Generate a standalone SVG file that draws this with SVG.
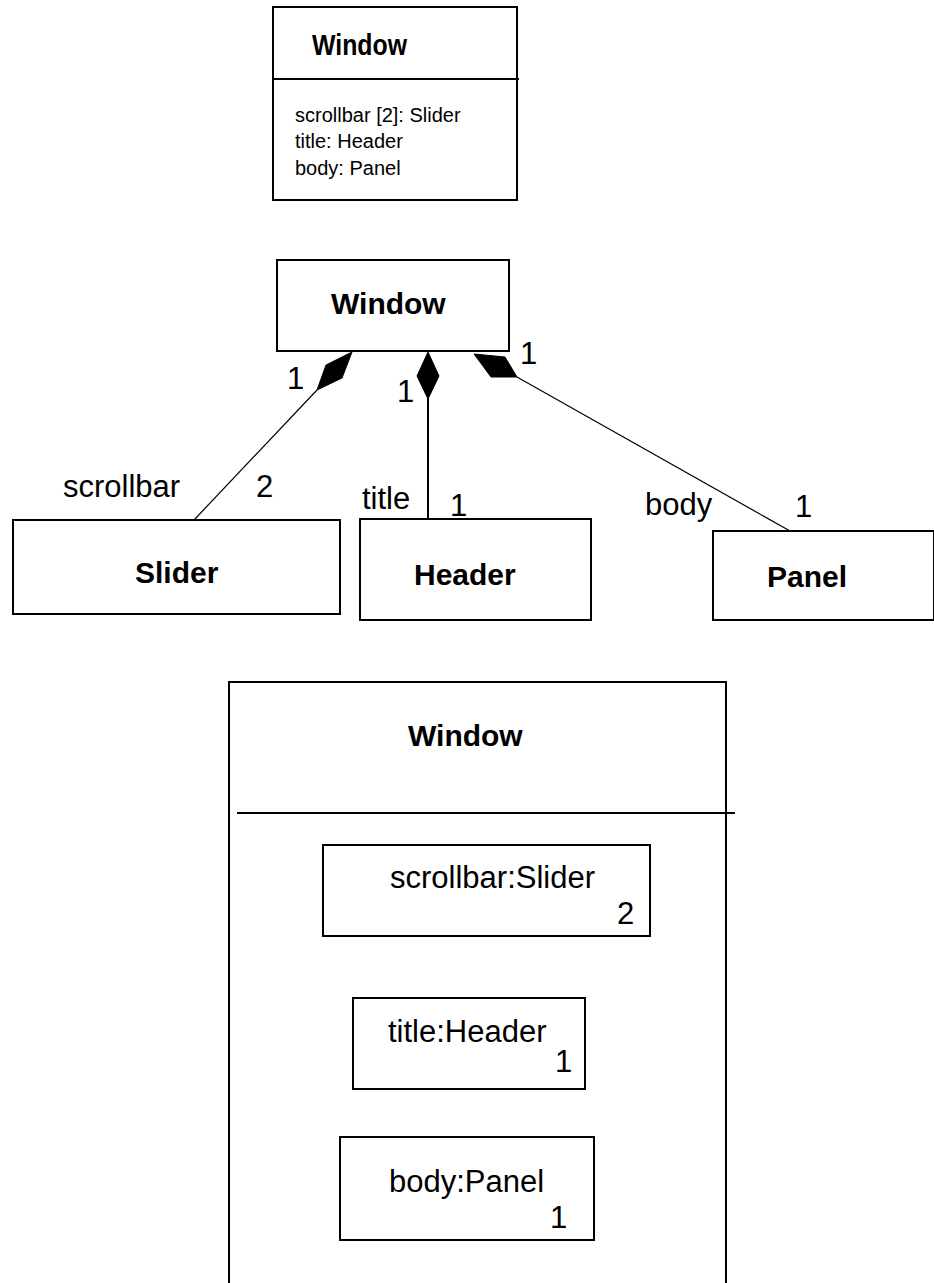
<svg xmlns="http://www.w3.org/2000/svg" width="934" height="1283" viewBox="0 0 934 1283">
<style>
.box{fill:#fff;stroke:#000;stroke-width:2}
.sep{stroke:#000;stroke-width:2}
.bold{font-family:"Liberation Sans",Arial,sans-serif;font-weight:bold;font-size:30px;fill:#000}
.lbl{font-family:"Liberation Sans",Arial,sans-serif;font-size:31px;fill:#000}
.attr{font-family:"Liberation Sans",Arial,sans-serif;font-size:20px;fill:#000}
.conn{stroke:#000;stroke-width:1.2;fill:none}
.dia{fill:#000;stroke:#000;stroke-width:1}
</style>
<rect width="934" height="1283" fill="#fff"/>

<g id="window-class-compact">
<rect class="box" x="273" y="7" width="244" height="193"/>
<line class="sep" x1="273" y1="79" x2="519" y2="79"/>
<text class="bold" x="312" y="55" textLength="95" lengthAdjust="spacingAndGlyphs">Window</text>
<text class="attr" x="295" y="122">scrollbar [2]: Slider</text>
<text class="attr" x="295" y="148">title: Header</text>
<text class="attr" x="295" y="175">body: Panel</text>
</g>

<g id="window-class">
<rect class="box" x="277" y="260" width="232" height="91"/>
<text class="bold" x="331" y="314">Window</text>
</g>

<g id="slider-class">
<rect class="box" x="13" y="520" width="327" height="94"/>
<text class="bold" x="135" y="583">Slider</text>
</g>

<g id="header-class">
<rect class="box" x="360" y="519" width="231" height="101"/>
<text class="bold" x="414" y="585">Header</text>
</g>

<g id="panel-class">
<rect class="box" x="713" y="531" width="221" height="89"/>
<text class="bold" x="767" y="587">Panel</text>
</g>

<g id="connectors">
<line class="conn" x1="317" y1="390" x2="194" y2="520"/>
<polygon class="dia" points="352,352 342,378 317,390 326,365"/>
<line class="conn" x1="428" y1="398" x2="428" y2="519" style="stroke-width:2"/>
<polygon class="dia" points="428,352 439,376 428,399 417,376"/>
<line class="conn" x1="517" y1="377" x2="790" y2="531"/>
<polygon class="dia" points="474,354 505,357 517,377 491,377"/>
<text class="lbl" x="287" y="389">1</text>
<text class="lbl" x="397" y="402">1</text>
<text class="lbl" x="520" y="364">1</text>
<text class="lbl" x="63" y="497">scrollbar</text>
<text class="lbl" x="256" y="497">2</text>
<text class="lbl" x="362" y="509">title</text>
<text class="lbl" x="450" y="516">1</text>
<text class="lbl" x="645" y="515">body</text>
<text class="lbl" x="795" y="517">1</text>
</g>

<g id="window-composite">
<rect class="box" x="229" y="682" width="497" height="620"/>
<line class="sep" x1="237" y1="813" x2="735" y2="813"/>
<text class="bold" x="408" y="746">Window</text>
</g>

<g id="part-scrollbar">
<rect class="box" x="323" y="845" width="327" height="91"/>
<text class="lbl" x="390" y="888">scrollbar:Slider</text>
<text class="lbl" x="617" y="924">2</text>
</g>

<g id="part-title">
<rect class="box" x="353" y="998" width="232" height="91"/>
<text class="lbl" x="388" y="1042">title:Header</text>
<text class="lbl" x="555" y="1072">1</text>
</g>

<g id="part-body">
<rect class="box" x="340" y="1137" width="254" height="103"/>
<text class="lbl" x="389" y="1192">body:Panel</text>
<text class="lbl" x="550" y="1228">1</text>
</g>
</svg>
